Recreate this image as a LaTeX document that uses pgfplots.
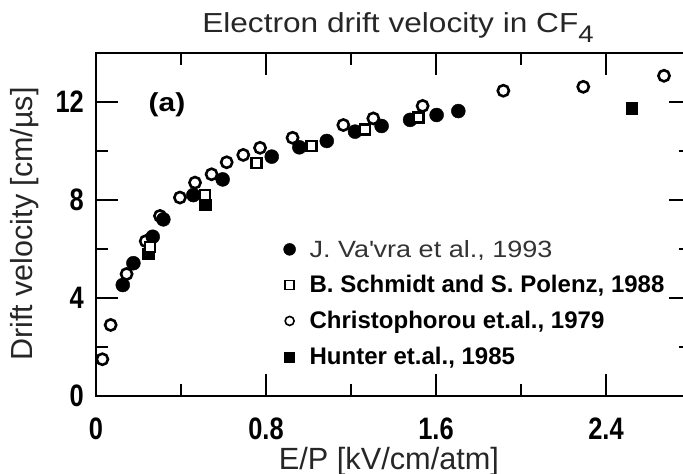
\documentclass[border=0pt]{standalone}
\usepackage{pgfplots}
\pgfplotsset{compat=1.18}
\usepackage{fontspec}
\setmainfont{Liberation Sans}
\newfontfamily\titlefont{Liberation Sans}[FakeStretch=1.15]
\newfontfamily\tickfont{Liberation Sans}[FakeStretch=0.82]
\definecolor{txt}{HTML}{262626}
\definecolor{leg1}{HTML}{333333}

\pgfplotstableread{
x y
0.030 1.50
0.069 2.90
0.144 4.98
0.234 6.32
0.301 7.35
0.395 8.10
0.466 8.71
0.544 9.05
0.615 9.54
0.693 9.84
0.772 10.13
0.925 10.54
1.164 11.06
1.305 11.33
1.537 11.84
1.917 12.46
2.293 12.62
2.673 13.07
}\christophorou

\pgfplotstableread{
x y
0.126 4.53
0.176 5.42
0.267 6.50
0.317 7.21
0.458 8.20
0.596 8.84
0.827 9.77
0.957 10.15
1.086 10.41
1.219 10.79
1.344 11.02
1.478 11.27
1.603 11.47
1.705 11.63
}\vavra

\pgfplotstableread{
x y
0.254 6.09
0.513 8.20
0.756 9.50
1.015 10.20
1.266 10.88
1.517 11.37
}\schmidt

\pgfplotstableread{
x y
0.246 5.82
0.513 7.80
2.521 11.74
}\hunter

\begin{document}
\begin{tikzpicture}
\begin{axis}[
  scale only axis, width=595pt, height=343pt,
  xmin=0, xmax=2.8, ymin=0, ymax=14,
  axis line style={line width=2.6pt, black},
  every tick/.style={line width=2.2pt, black},
  major tick length=22pt, minor tick length=12pt,
  tick align=inside,
  xtick={0,0.8,1.6,2.4}, xticklabels={0,0.8,1.6,2.4},
  minor xtick={0.4,1.2,2.0},
  ytick={0,4,8,12}, yticklabels={0,4,8,12},
  minor ytick={2,6,10},
  xticklabel style={font=\tickfont\bfseries\fontsize{31}{31}\selectfont, anchor=north, inner sep=0pt, yshift=-22pt},
  yticklabel style={font=\tickfont\bfseries\fontsize{31}{31}\selectfont, anchor=east, inner sep=0pt, xshift=-12pt},
  legend style={at={(axis description cs:0.315,0.461)}, anchor=north west, draw=none, fill=none, inner sep=0pt, row sep=13pt, column sep=12pt, nodes={inner sep=2pt}},
  legend cell align=left,
  clip=false,
]
\addlegendimage{only marks, mark=*, mark size=6pt, black}
\addlegendentry{\titlefont\fontsize{23.5}{24}\selectfont\color{leg1}J. Va\textquotesingle vra et al., 1993}
\addlegendimage{only marks, mark=square*, mark size=4.5pt, mark options={fill=white, draw=black, line width=1.6pt}}
\addlegendentry{\bfseries\fontsize{24}{24}\selectfont B. Schmidt and S. Polenz, 1988}
\addlegendimage{only marks, mark=*, mark size=4.5pt, mark options={fill=white, draw=black, line width=1.6pt}}
\addlegendentry{\bfseries\fontsize{24}{24}\selectfont Christophorou et.al., 1979}
\addlegendimage{only marks, mark=square*, mark size=5pt, black}
\addlegendentry{\bfseries\fontsize{24}{24}\selectfont Hunter et.al., 1985}

\addplot[only marks, mark=*, mark size=5.6pt, mark options={fill=white, draw=black, line width=2.6pt}, forget plot] table[x=x,y=y] {\christophorou};
\addplot[only marks, mark=square*, mark size=5.7pt, black, forget plot] table[x=x,y=y] {\hunter};
\addplot[only marks, mark=*, mark size=7pt, black, forget plot] table[x=x,y=y] {\vavra};
\addplot[only marks, mark=square*, mark size=5pt, mark options={fill=white, draw=black, line width=2.4pt}, forget plot] table[x=x,y=y] {\schmidt};

\node[font=\titlefont\bfseries\fontsize{26}{26}\selectfont] at (axis cs:0.334,11.88) {(a)};
\end{axis}
\node[anchor=base, font=\titlefont\fontsize{27.5}{30}\selectfont, text=txt] at (302pt,363pt) {Electron drift velocity in CF\raisebox{-10pt}{\fontsize{24}{24}\selectfont 4}};
\node[anchor=base, font=\fontsize{30.7}{32}\selectfont, text=txt] at (293pt,-73pt) {E/P [kV/cm/atm]};
\node[anchor=base, rotate=90, font=\fontsize{30.5}{32}\selectfont, text=txt] at (-63pt,172pt) {Drift velocity [cm/µs]};
\pgfresetboundingbox
\path[use as bounding box] (-96pt,-78pt) rectangle (587pt,396pt);
\end{tikzpicture}
\end{document}
